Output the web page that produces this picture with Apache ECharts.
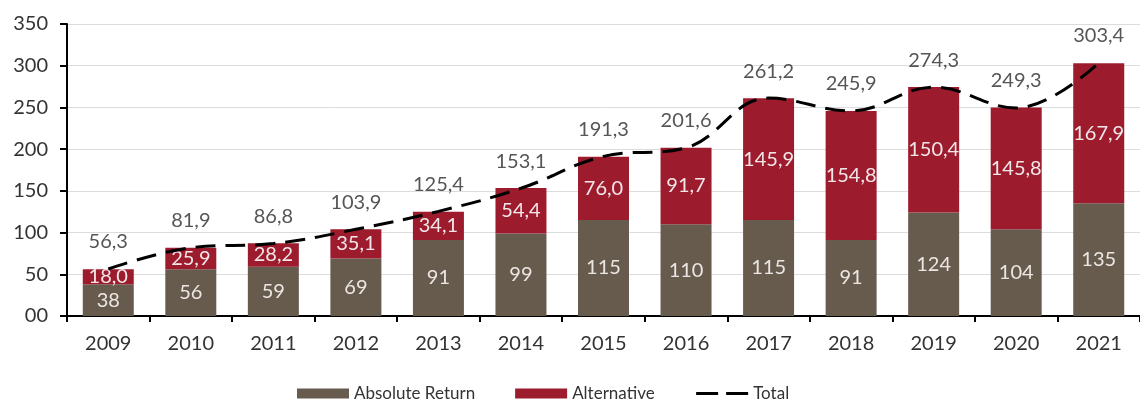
<!DOCTYPE html>
<html lang="en">
  <head>
    <meta charset="UTF-8" />
    <title>Absolute Return / Alternative</title>
    <script src="https://cdn.jsdelivr.net/npm/echarts@6.0.0/dist/echarts.min.js"></script>
    <style>
      html, body { margin: 0; padding: 0; background: #fff; }
    </style>
  </head>
  <body>
    <div id="chart" style="width: 1140px; height: 403px"></div>
    <script>
      const years = ["2009", "2010", "2011", "2012", "2013", "2014", "2015", "2016", "2017", "2018", "2019", "2020", "2021"];
      const absoluteReturn = [38, 56, 59, 69, 91, 99, 115, 110, 115, 91, 124, 104, 135];
      const alternative = [18.0, 25.9, 28.2, 35.1, 34.1, 54.4, 76.0, 91.7, 145.9, 154.8, 150.4, 145.8, 167.9];
      const total = [56.3, 81.9, 86.8, 103.9, 125.4, 153.1, 191.3, 201.6, 261.2, 245.9, 274.3, 249.3, 303.4];

      const font = "Lato, 'Open Sans', sans-serif";
      const comma = (v) => v.toFixed(1).replace(".", ",");

      const chart = echarts.init(document.getElementById("chart"));
      chart.setOption({
        animation: false,
        textStyle: { fontFamily: font },
        grid: { left: 67, top: 24, width: 1079, height: 292 },
        legend: {
          top: 380,
          left: 292,
          itemWidth: 52,
          itemHeight: 10,
          itemGap: 40,
          textStyle: { fontSize: 17, color: "#333", fontFamily: font },
          data: [
            { name: "Absolute Return", icon: "rect" },
            { name: "Alternative", icon: "rect" },
            {
              name: "Total",
              itemStyle: { opacity: 0 },
              lineStyle: { color: "#000", width: 3, type: [22, 8] },
            },
          ],
        },
        xAxis: {
          type: "category",
          data: years,
          axisLine: { lineStyle: { color: "#000", width: 2 } },
          axisTick: { show: true, length: 6, lineStyle: { color: "#000", width: 2 } },
          axisLabel: { fontSize: 20, color: "#333", margin: 18 },
        },
        yAxis: {
          type: "value",
          min: 0,
          max: 350,
          interval: 50,
          axisLine: { show: true, lineStyle: { color: "#000", width: 2 } },
          axisTick: { show: true, length: 7, lineStyle: { color: "#000", width: 2 } },
          axisLabel: {
            fontSize: 20,
            color: "#333",
            margin: 19,
            formatter: (v) => (v === 0 ? "00" : String(v)),
          },
          splitLine: { lineStyle: { color: "#dcdcdc", width: 1 } },
        },
        series: [
          {
            name: "Absolute Return",
            type: "bar",
            stack: "a",
            barWidth: 51,
            data: absoluteReturn,
            itemStyle: { color: "#675b4e" },
            label: {
              show: true,
              position: "inside",
              color: "#ece6e2",
              fontSize: 20,
              formatter: (p) => String(p.value),
            },
          },
          {
            name: "Alternative",
            type: "bar",
            stack: "a",
            data: alternative,
            itemStyle: { color: "#9c1c2e" },
            label: {
              show: true,
              position: "inside",
              color: "#f2e6e8",
              fontSize: 20,
              formatter: (p) => comma(p.value),
            },
          },
          {
            name: "Total",
            type: "line",
            data: total,
            smooth: 0.4,
            symbol: "none",
            z: 5,
            lineStyle: { color: "#000", width: 3, type: [20, 10] },
            itemStyle: { color: "#000" },
          },
          {
            // labels for the total line
            name: "TotalLabels",
            type: "scatter",
            data: total,
            symbolSize: 0,
            silent: true,
            label: {
              show: true,
              position: "top",
              distance: 17,
              color: "#2b2b2b",
              fontSize: 20,
              formatter: (p) => comma(p.value),
            },
          },
        ],
      });
    </script>
  </body>
</html>
